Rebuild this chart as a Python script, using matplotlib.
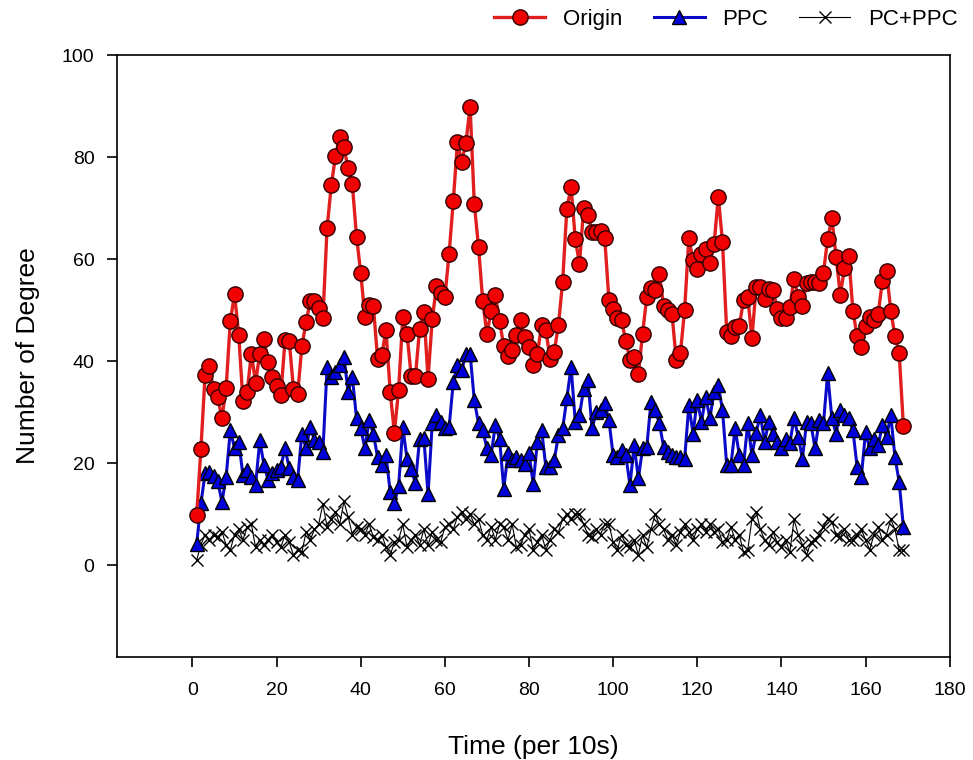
import matplotlib
matplotlib.use('Agg')
from matplotlib import pyplot as plt

plt.rcParams['font.family'] = ['Liberation Sans', 'DejaVu Sans']

# time index (per 10s)
t = list(range(1, 170))

origin = [
    9.8, 22.7, 37.3, 39.0, 34.5, 32.9, 28.8, 34.8, 47.9, 53.1,
    45.1, 32.2, 34.0, 41.5, 35.8, 41.5, 44.4, 39.9, 36.8, 35.1,
    33.3, 44.1, 44.0, 34.6, 33.5, 42.9, 47.6, 51.8, 51.8, 50.5,
    48.4, 66.1, 74.5, 80.2, 84.0, 81.9, 77.8, 74.7, 64.4, 57.3,
    48.6, 51.0, 50.8, 40.5, 41.2, 46.1, 34.0, 26.0, 34.4, 48.6,
    45.4, 37.0, 37.0, 46.4, 49.7, 36.6, 48.2, 54.7, 53.3, 52.6,
    61.0, 71.4, 83.0, 79.0, 82.8, 89.9, 70.8, 62.4, 51.8, 45.3,
    49.9, 52.9, 47.9, 42.9, 41.0, 42.2, 45.1, 48.0, 44.8, 42.8,
    39.2, 41.5, 47.1, 46.2, 40.5, 41.8, 47.1, 55.6, 69.9, 74.2,
    63.9, 59.1, 70.1, 68.6, 65.4, 65.4, 65.6, 64.1, 52.0, 50.3,
    48.5, 48.0, 44.0, 40.3, 40.9, 37.5, 45.4, 52.6, 54.4, 54.0,
    57.1, 50.8, 50.0, 49.2, 40.3, 41.6, 50.1, 64.1, 59.8, 58.0,
    61.1, 61.9, 59.3, 62.9, 72.2, 63.4, 45.8, 44.9, 46.7, 46.9,
    52.0, 52.6, 44.5, 54.6, 54.6, 52.1, 54.1, 54.0, 50.3, 48.4,
    48.4, 50.6, 56.2, 52.6, 50.8, 55.4, 55.6, 55.6, 55.4, 57.3,
    64.0, 68.0, 60.5, 53.0, 58.2, 60.7, 49.9, 44.9, 42.7, 46.9,
    48.7, 48.0, 49.2, 55.7, 57.6, 49.9, 44.9, 41.6, 27.3,
]

ppc = [
    4.2, 12.1, 18.0, 18.3, 17.5, 16.5, 12.4, 17.3, 26.5, 22.9,
    24.2, 17.6, 18.6, 17.3, 15.7, 24.5, 19.6, 16.7, 18.0, 18.6,
    19.3, 22.9, 19.0, 17.2, 16.7, 25.8, 22.9, 27.1, 24.5, 24.2,
    22.2, 38.9, 36.9, 37.9, 39.2, 40.9, 34.0, 36.9, 28.8, 26.8,
    22.9, 28.4, 25.8, 21.2, 19.6, 21.6, 14.4, 12.2, 15.5, 27.0,
    20.9, 18.8, 16.1, 24.8, 25.0, 13.9, 27.8, 29.4, 28.1, 26.8,
    27.0, 35.9, 39.2, 38.2, 41.5, 41.5, 32.3, 27.8, 26.5, 22.9,
    21.6, 27.5, 24.8, 15.0, 21.9, 20.6, 21.2, 20.6, 19.9, 21.9,
    16.0, 24.2, 26.5, 19.3, 19.3, 20.6, 25.5, 26.8, 32.7, 38.9,
    28.1, 29.4, 34.6, 36.3, 26.8, 30.1, 30.4, 31.7, 28.4, 21.6,
    21.2, 22.5, 21.6, 15.7, 23.5, 17.0, 22.9, 23.2, 32.0, 30.4,
    27.8, 23.2, 22.2, 21.6, 21.2, 21.2, 20.8, 31.4, 25.8, 32.4,
    28.1, 33.0, 28.8, 34.0, 35.3, 30.4, 19.6, 19.6, 26.8, 21.6,
    19.6, 27.8, 21.6, 26.0, 29.4, 24.2, 28.1, 25.8, 24.2, 22.9,
    24.8, 23.9, 28.8, 25.2, 20.9, 28.1, 27.8, 22.9, 28.4, 27.8,
    37.6, 28.8, 25.8, 30.4, 29.4, 28.8, 26.5, 19.3, 17.3, 26.1,
    22.9, 24.8, 23.5, 27.4, 25.2, 29.4, 21.2, 16.3, 7.5,
]

pc_ppc = [
    1, 4, 6, 5, 6, 5.5, 6.5, 4, 3, 6,
    7, 5, 7.5, 8, 3.5, 5, 4, 5, 6, 4.5,
    3.5, 6, 4.5, 2, 3, 2.5, 6.5, 5, 7, 8,
    12, 7.5, 9, 10.5, 8, 12.5, 9.5, 6, 7.5, 7,
    6, 8, 5.5, 5, 6, 3.5, 2, 4.5, 5, 8,
    3.5, 5, 6, 4, 7, 4, 6.5, 5, 4.5, 7.5,
    8, 7, 9.5, 10.5, 9, 10, 8, 9, 6, 5,
    7.5, 5, 8, 7.5, 5, 8, 3.5, 4, 6, 7,
    3, 4.5, 6, 3, 5, 7, 6.5, 9, 10, 9,
    10, 10, 8, 6, 5.5, 7, 6, 8, 8, 4.5,
    3, 6, 4, 3.5, 5, 2, 6, 3.5, 7, 10,
    8, 7, 5, 6, 4, 6.5, 8, 6.5, 5, 7,
    8, 6.5, 8, 6.5, 7, 4.5, 5, 7.5, 5, 6,
    2.5, 3, 9, 10.5, 7, 5, 4, 6.5, 4.5, 3.5,
    5, 2.5, 9, 6, 4, 2, 4.5, 5, 6, 7.5,
    9, 8.5, 6, 5.5, 7, 5, 5, 6, 7, 5,
    3, 6, 7.5, 5, 6, 9, 7, 3, 3,
]

fig = plt.figure(figsize=(9.73, 7.6), dpi=100)
ax = fig.add_axes([0.12, 0.1355, 0.856, 0.792])

l3, = ax.plot(t, pc_ppc, color='black', lw=0.8, marker='x', markersize=9,
              markeredgewidth=1.0, label='PC+PPC', zorder=2)
l2, = ax.plot(t, ppc, color='#0a0ac8', lw=2.2, marker='^', markersize=10,
              markerfacecolor='#0000dd', markeredgecolor='black',
              markeredgewidth=1.0, label='PPC', zorder=3)
l1, = ax.plot(t, origin, color='#e01e1e', lw=2.4, marker='o', markersize=11,
              markerfacecolor='#f00000', markeredgecolor='#300000',
              markeredgewidth=1.0, label='Origin', zorder=4)

ax.set_xlim(-18, 180)
ax.set_ylim(-18, 100)
ax.set_xticks(range(0, 181, 20))
ax.set_yticks(range(0, 101, 20))
ax.tick_params(direction='out', length=7, width=1.2, labelsize=14, pad=9)
ax.tick_params(axis='x', pad=11)
for s in ax.spines.values():
    s.set_linewidth(1.2)

ax.set_xlabel('Time (per 10s)', fontsize=19, labelpad=26)
ax.set_ylabel('Number of Degree', fontsize=19, labelpad=16)

fig.legend(handles=[l1, l2, l3], loc='upper right', ncol=3, frameon=False,
           fontsize=16, bbox_to_anchor=(1.005, 1.015), handlelength=2.3,
           columnspacing=1.4, handletextpad=0.8)

fig.savefig('out.png', dpi=100)
